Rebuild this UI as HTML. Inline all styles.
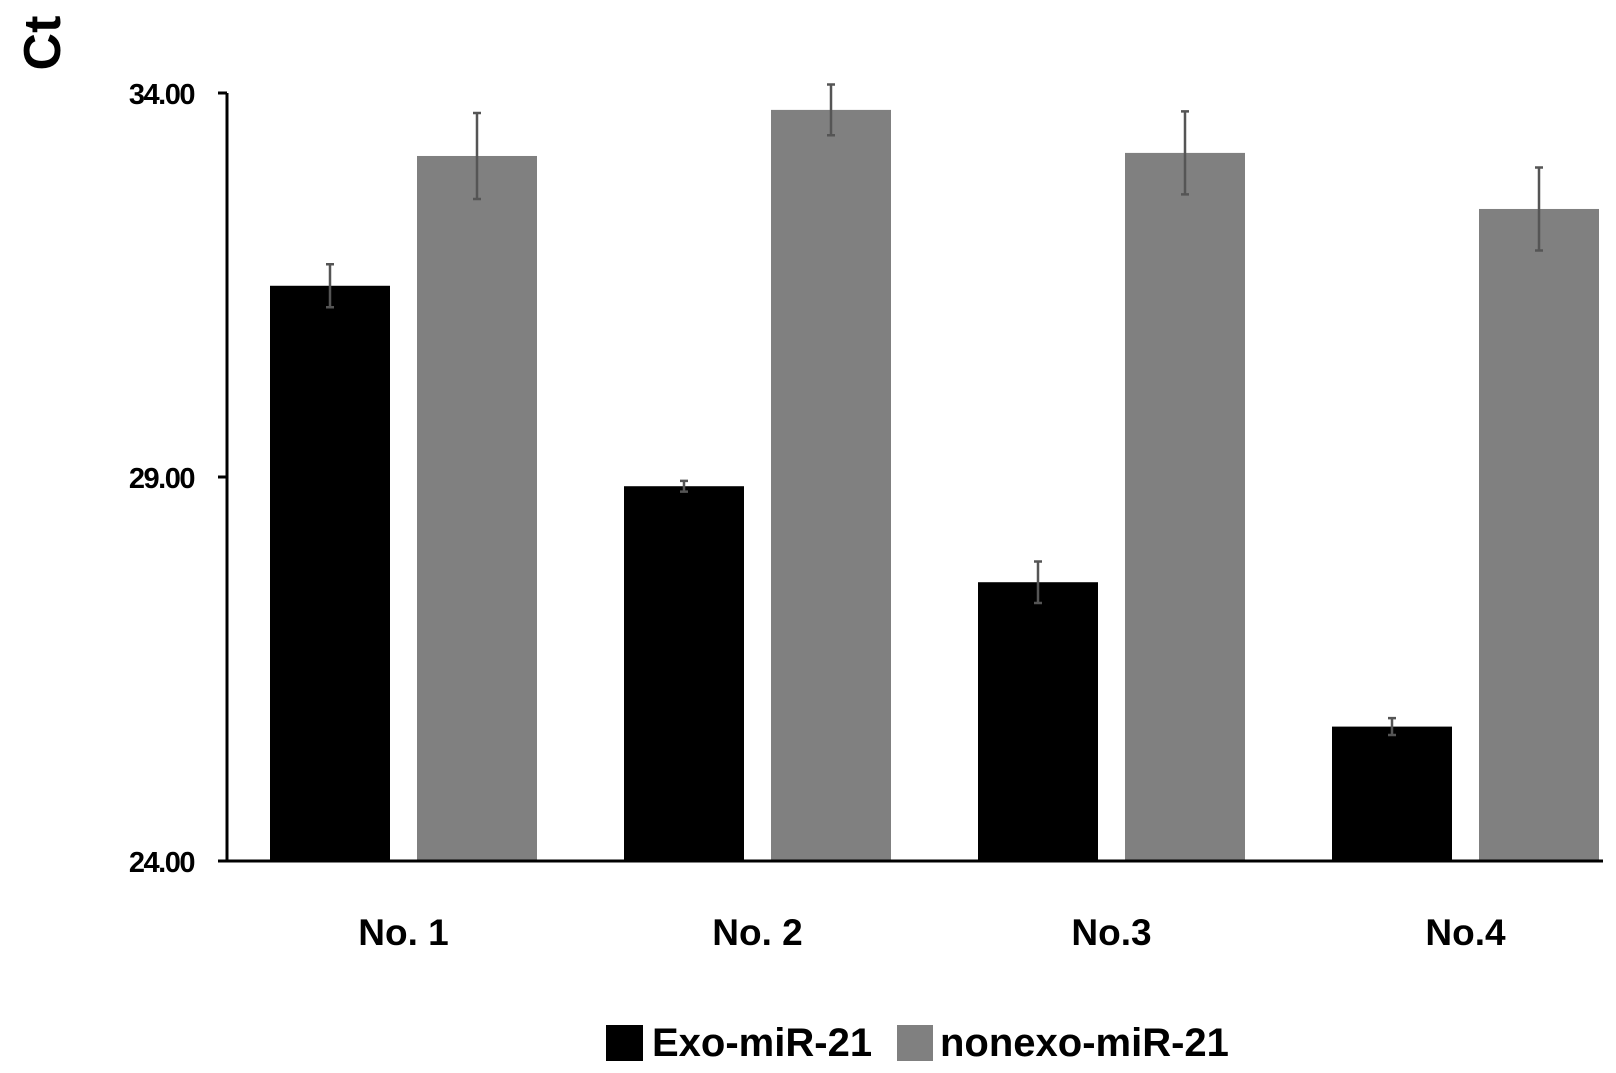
<!DOCTYPE html>
<html><head><meta charset="utf-8"><style>
body{margin:0;background:#fff;width:1616px;height:1068px;overflow:hidden}
svg text{font-family:"Liberation Sans",sans-serif;font-weight:bold;fill:#000}
</style></head><body>
<svg id="c" width="1616" height="1068"></svg>
<script>
const categories=["No. 1","No. 2","No.3","No.4"];
const exoValues=[31.49,28.88,27.63,25.75];
const exoErrors=[0.28,0.07,0.27,0.11];
const nonexoValues=[33.18,33.78,33.22,32.49];
const nonexoErrors=[0.56,0.33,0.54,0.54];
const tickValues=[24,29,34];
const tickLabels=["24.00","29.00","34.00"];
const NS="http://www.w3.org/2000/svg";
const svg=document.getElementById('c');
const x0=227,yTop=93,yBot=861,vMin=24,vMax=34,band=354,barW=120,gap=27,off=43;
function y(v){return yBot-(v-vMin)/(vMax-vMin)*(yBot-yTop);}
function xb(i,s){return x0+off+i*band+s*(barW+gap);}
function mk(tag,attrs,txt){const e=document.createElementNS(NS,tag);for(const k in attrs)e.setAttribute(k,attrs[k]);if(txt!==undefined)e.textContent=txt;svg.appendChild(e);return e;}
const series=[[exoValues,exoErrors,"#000","exo"],[nonexoValues,nonexoErrors,"#808080","nonexo"]];
categories.forEach((c,i)=>{
  series.forEach((s,si)=>{
    const v=s[0][i],er=s[1][i],x=xb(i,si);
    const r=mk('rect',{x:x,y:y(v),width:barW,height:yBot-y(v),fill:s[2]});
    
    
    const cx=x+barW/2;
    const g=mk('path',{d:`M${cx},${y(v+er)}V${y(v-er)}M${cx-4},${y(v+er)}H${cx+4}M${cx-4},${y(v-er)}H${cx+4}`,stroke:"#555","stroke-width":2.5,fill:"none"});
    
    
  });
  const t=mk('text',{x:xb(i,0)+(2*barW+gap)/2,y:945,"font-size":37,"text-anchor":"middle"},c);
  
  
});
const ax=mk('path',{d:`M${x0},${yTop}V${yBot}H1603`,stroke:"#000","stroke-width":3,fill:"none"});


tickValues.forEach((v,i)=>{
  const tk=mk('line',{x1:x0-9,x2:x0,y1:y(v),y2:y(v),stroke:"#000","stroke-width":3});
  
  
  const tl=mk('text',{x:194,y:y(v)+11,"font-size":29,"text-anchor":"end","letter-spacing":"-1.5"},tickLabels[i]);
  
  
});
const yt=mk('text',{x:0,y:0,"font-size":52,"text-anchor":"middle",transform:"translate(60,43) rotate(-90)"},"Ct");


const l1=mk('rect',{x:606,y:1025,width:37,height:36,fill:"#000"});


const lt1=mk('text',{x:652,y:1056,"font-size":40},"Exo-miR-21");


const l2=mk('rect',{x:897,y:1025,width:36,height:36,fill:"#808080"});


const lt2=mk('text',{x:940,y:1056,"font-size":40},"nonexo-miR-21");


</script>
</body></html>
